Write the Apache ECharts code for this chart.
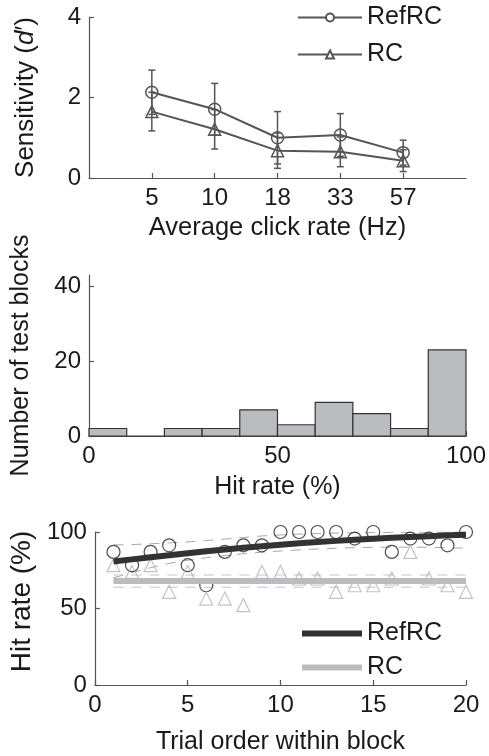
<!DOCTYPE html>
<html><head><meta charset="utf-8">
<script src="https://cdn.jsdelivr.net/npm/echarts@6/dist/echarts.min.js"></script>
<style>html,body{margin:0;padding:0;background:#fff}#c{width:489px;height:756px}</style>
</head><body><div id="c"></div>
<script>
// ---- Panel A: sensitivity vs click rate ----
const rateLabels = ['5', '10', '18', '33', '57'];
const refrcDprime = [2.13, 1.71, 1.00, 1.07, 0.63];
const refrcDprimeErr = [0.55, 0.64, 0.65, 0.53, 0.31];
const rcDprime = [1.65, 1.21, 0.68, 0.65, 0.43];
const rcDprimeErr = [0.48, 0.49, 0.44, 0.37, 0.27];

// ---- Panel B: histogram of hit rate ----
const binEdges = [0, 10, 20, 30, 40, 50, 60, 70, 80, 90, 100];
const blockCounts = [2, 0, 2, 2, 7, 3, 9, 6, 2, 23];

// ---- Panel C: hit rate vs trial order ----
const trials = [1, 2, 3, 4, 5, 6, 7, 8, 9, 10, 11, 12, 13, 14, 15, 16, 17, 18, 19, 20];
const refrcHit = [87.0, 78.3, 87.0, 91.3, 78.3, 65.2, 87.0, 91.3, 91.3, 100, 100, 100, 100, 95.7, 100, 87.0, 95.7, 95.7, 91.3, 100];
const rcHit = [78.3, 73.9, 78.3, 60.9, 73.9, 56.5, 56.5, 52.2, 73.9, 73.9, 69.6, 69.6, 60.9, 65.2, 65.2, 69.6, 87.0, 69.6, 65.2, 60.9];
const refrcFit = [80.7, 82.1, 83.5, 84.8, 86.1, 87.4, 88.6, 89.7, 90.7, 91.7, 92.6, 93.4, 94.2, 94.9, 95.6, 96.2, 96.8, 97.3, 97.8, 98.2];
const refrcFitUpper = [91.5, 91.8, 92.3, 92.9, 93.5, 94.4, 95.4, 96.4, 97.4, 98.1, 98.6, 99.0, 99.3, 99.5, 99.6, 99.7, 99.8, 99.9, 99.9, 100];
const refrcFitLower = [70.0, 73.5, 76.7, 79.5, 81.5, 83.2, 84.6, 85.8, 86.8, 87.6, 88.3, 88.9, 89.4, 89.8, 90.0, 90.1, 90.1, 90.0, 89.7, 89.4];
const rcFit = [68.0, 68.0, 68.0, 68.0, 68.0, 68.0, 68.0, 68.0, 68.0, 68.0, 68.0, 68.0, 68.0, 68.0, 68.0, 68.0, 68.0, 68.0, 68.0, 68.0];
const rcFitUpper = [71.9, 71.9, 71.9, 71.9, 71.9, 71.9, 71.9, 71.9, 71.9, 71.9, 71.9, 71.9, 71.9, 71.9, 71.9, 71.9, 71.9, 71.9, 71.9, 71.9];
const rcFitLower = [63.9, 63.9, 63.9, 63.9, 63.9, 63.9, 63.9, 63.9, 63.9, 63.9, 63.9, 63.9, 63.9, 63.9, 63.9, 63.9, 63.9, 63.9, 63.9, 63.9];

const FONT = 'Liberation Sans, Arial, Helvetica, sans-serif';
const TXT = '#1a1a1a';
const AX = '#555';
const FS = 24;

function baseAxis(extra) {
  return Object.assign({
    type: 'value',
    splitLine: { show: false },
    axisLine: { show: true, onZero: false, lineStyle: { color: AX, width: 1.2 } },
    axisTick: { show: true, inside: true, length: 5, lineStyle: { color: AX, width: 1.2 } },
    axisLabel: { color: TXT, fontSize: FS, fontFamily: FONT, margin: 8 },
    nameLocation: 'middle',
    nameTextStyle: { color: TXT, fontSize: 25, fontFamily: FONT }
  }, extra);
}

const chart = echarts.init(document.getElementById('c'), null, { renderer: 'canvas' });

function errorBarItem(params, api) {
  const x = api.value(0), v = api.value(1), e = api.value(2);
  const top = api.coord([x, v + e]);
  const bot = api.coord([x, v - e]);
  const cap = 3.5;
  const st = { stroke: '#555', lineWidth: 1.5 };
  return {
    type: 'group',
    children: [
      { type: 'line', shape: { x1: top[0], y1: top[1], x2: bot[0], y2: bot[1] }, style: st },
      { type: 'line', shape: { x1: top[0] - cap, y1: top[1], x2: top[0] + cap, y2: top[1] }, style: st },
      { type: 'line', shape: { x1: bot[0] - cap, y1: bot[1], x2: bot[0] + cap, y2: bot[1] }, style: st }
    ]
  };
}

function histItem(params, api) {
  const s = api.value(0), e = api.value(1), c = api.value(2);
  const p0 = api.coord([s, 0]);
  const p1 = api.coord([e, c]);
  return {
    type: 'rect',
    shape: { x: p0[0], y: p1[1], width: p1[0] - p0[0], height: p0[1] - p1[1] },
    style: { fill: '#bbbcc0', stroke: '#333', lineWidth: 1.2 }
  };
}

const histData = blockCounts.map((c, i) => [binEdges[i], binEdges[i + 1], c]);
const dashStyle = (color) => ({ color: color, width: 1, type: [10, 8] });

const option = {
  animation: false,
  backgroundColor: '#fff',
  textStyle: { fontFamily: FONT },
  grid: [
    { left: 89, width: 377, top: 17, height: 161 },
    { left: 89, width: 377, top: 275, height: 161 },
    { left: 89, width: 377, top: 532, height: 161 }
  ],
  xAxis: [
    baseAxis({
      gridIndex: 0, min: 0, max: 6,
      axisTick: { show: true, inside: true, length: 5, lineStyle: { color: AX, width: 1.2 }, customValues: [1, 2, 3, 4, 5] },
      axisLabel: { color: TXT, fontSize: FS, fontFamily: FONT, margin: 8, customValues: [1, 2, 3, 4, 5],
        formatter: (v) => rateLabels[Math.round(v) - 1] || '' },
      name: 'Average click rate (Hz)', nameGap: 37,
      nameTextStyle: { color: TXT, fontSize: 25.5, fontFamily: FONT }
    }),
    baseAxis({ gridIndex: 1, min: 0, max: 100, interval: 50, name: 'Hit rate (%)', nameGap: 39 }),
    baseAxis({ gridIndex: 2, min: 0, max: 20, interval: 5, name: 'Trial order within block', nameGap: 45 })
  ],
  yAxis: [
    baseAxis({
      gridIndex: 0, min: 0, max: 4, interval: 2,
      name: '{a|Sensitivity (}{b|d}{c|′}{a|)}', nameGap: 50,
      nameTextStyle: {
        color: TXT, fontSize: 26, fontFamily: FONT,
        rich: {
          a: { color: TXT, fontSize: 26, fontFamily: FONT },
          b: { color: TXT, fontSize: 26, fontFamily: FONT, fontStyle: 'italic' },
          c: { color: TXT, fontSize: 26, fontFamily: FONT }
        }
      }
    }),
    baseAxis({
      gridIndex: 1, min: 0, max: 43,
      axisTick: { show: true, inside: true, length: 5, lineStyle: { color: AX, width: 1.2 }, customValues: [0, 20, 40] },
      axisLabel: { color: TXT, fontSize: FS, fontFamily: FONT, margin: 8, customValues: [0, 20, 40] },
      name: 'Number of test blocks', nameGap: 55
    }),
    baseAxis({
      gridIndex: 2, min: 0, max: 100, interval: 50, name: 'Hit rate (%)', nameGap: 49,
      nameTextStyle: { color: TXT, fontSize: 28, fontFamily: FONT, padding: [0, 0, 0, 14] }
    })
  ],
  legend: [
    {
      data: ['RefRC', 'RC'], orient: 'vertical', left: 297, top: 5, padding: 0,
      itemWidth: 64, itemHeight: 10, itemGap: 12, selectedMode: false,
      itemStyle: { color: '#fff' },
      textStyle: { color: TXT, fontSize: 25, fontFamily: FONT }
    },
    {
      data: [{ name: 'RefRC fit', icon: 'rect' }, { name: 'RC fit', icon: 'rect' }],
      orient: 'vertical', left: 302, top: 621, padding: 0,
      itemWidth: 60, itemHeight: 6, itemGap: 9, selectedMode: false,
      formatter: (n) => n.replace(' fit', ''),
      textStyle: { color: TXT, fontSize: 25, fontFamily: FONT }
    }
  ],
  series: [
    // Panel A
    {
      name: 'RefRC errbar', type: 'custom', xAxisIndex: 0, yAxisIndex: 0,
      renderItem: errorBarItem, data: refrcDprime.map((v, i) => [i + 1, v, refrcDprimeErr[i]]), z: 1
    },
    {
      name: 'RC errbar', type: 'custom', xAxisIndex: 0, yAxisIndex: 0,
      renderItem: errorBarItem, data: rcDprime.map((v, i) => [i + 1, v, rcDprimeErr[i]]), z: 1
    },
    {
      name: 'RefRC', type: 'line', xAxisIndex: 0, yAxisIndex: 0,
      data: refrcDprime.map((v, i) => [i + 1, v]),
      symbol: 'circle', symbolSize: 12, z: 3,
      itemStyle: { color: 'rgba(255,255,255,0)', borderColor: '#555', borderWidth: 1.5 },
      lineStyle: { color: '#555', width: 2 }
    },
    {
      name: 'RC', type: 'line', xAxisIndex: 0, yAxisIndex: 0,
      data: rcDprime.map((v, i) => [i + 1, v]),
      symbol: 'triangle', symbolSize: 12, z: 3,
      itemStyle: { color: 'rgba(255,255,255,0)', borderColor: '#555', borderWidth: 1.5 },
      lineStyle: { color: '#555', width: 2 }
    },
    // Panel B
    {
      name: 'blocks', type: 'custom', xAxisIndex: 1, yAxisIndex: 1,
      renderItem: histItem, data: histData
    },
    // Panel C
    { name: 'RefRC upper', type: 'line', xAxisIndex: 2, yAxisIndex: 2, symbol: 'none',
      data: trials.map((t, i) => [t, refrcFitUpper[i]]), lineStyle: dashStyle('#a8a8a8'), z: 1 },
    { name: 'RefRC lower', type: 'line', xAxisIndex: 2, yAxisIndex: 2, symbol: 'none',
      data: trials.map((t, i) => [t, refrcFitLower[i]]), lineStyle: dashStyle('#a8a8a8'), z: 1 },
    { name: 'RC upper', type: 'line', xAxisIndex: 2, yAxisIndex: 2, symbol: 'none',
      data: trials.map((t, i) => [t, rcFitUpper[i]]), lineStyle: dashStyle('#c4c4c4'), z: 1 },
    { name: 'RC lower', type: 'line', xAxisIndex: 2, yAxisIndex: 2, symbol: 'none',
      data: trials.map((t, i) => [t, rcFitLower[i]]), lineStyle: dashStyle('#c4c4c4'), z: 1 },
    { name: 'RefRC hits', type: 'scatter', xAxisIndex: 2, yAxisIndex: 2, symbol: 'circle', symbolSize: 13,
      data: trials.map((t, i) => [t, refrcHit[i]]), z: 2,
      itemStyle: { color: 'rgba(255,255,255,0)', borderColor: '#222', borderWidth: 1.2 } },
    { name: 'RC hits', type: 'scatter', xAxisIndex: 2, yAxisIndex: 2, symbol: 'triangle', symbolSize: 13,
      data: trials.map((t, i) => [t, rcHit[i]]), z: 2,
      itemStyle: { color: 'rgba(255,255,255,0)', borderColor: '#b4b4b4', borderWidth: 1.2 } },
    { name: 'RefRC fit', type: 'line', xAxisIndex: 2, yAxisIndex: 2, symbol: 'none',
      data: trials.map((t, i) => [t, refrcFit[i]]), z: 4,
      itemStyle: { color: '#333' }, lineStyle: { color: '#333', width: 6 } },
    { name: 'RC fit', type: 'line', xAxisIndex: 2, yAxisIndex: 2, symbol: 'none',
      data: trials.map((t, i) => [t, rcFit[i]]), z: 3,
      itemStyle: { color: '#bbbcbf' }, lineStyle: { color: '#bbbcbf', width: 6 } }
  ]
};
chart.setOption(option);
</script>
</body></html>
